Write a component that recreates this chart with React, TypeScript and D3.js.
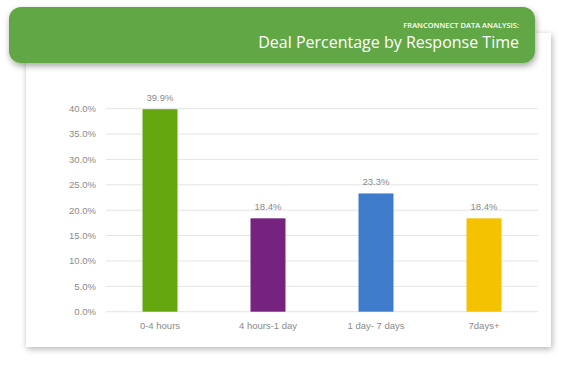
import * as d3 from "d3"
import React from "react"

const categories = ["0-4 hours", "4 hours-1 day", "1 day- 7 days", "7days+"]
const values = [39.9, 18.4, 23.3, 18.4]
const barColors = ["#65a70e", "#75237f", "#3e7bcb", "#f5c200"]
const yTickValues = [0, 5, 10, 15, 20, 25, 30, 35, 40]
const kicker = "FRANCONNECT DATA ANALYSIS:"
const title = "Deal Percentage by Response Time"

const W = 588
const H = 385

export default function App() {
  const x = d3.scaleBand<string>().domain(categories).range([106, 538]).paddingInner(0.676).paddingOuter(0.338)
  const y = d3.scaleLinear().domain([0, 40]).range([311.7, 108.7])
  const fmt = (v: number) => v.toFixed(1) + "%"
  const axisFont = "'Liberation Sans', Arial, sans-serif"
  const titleFont = "'Open Sans', Lato, sans-serif"

  return (
    <div style={{ position: "absolute", left: 0, top: 0 }}>
      <svg width={W} height={H} style={{ display: "block" }}>
        <defs>
          <filter id="cardShadow" x="-10%" y="-10%" width="120%" height="130%">
            <feDropShadow dx="1" dy="2" stdDeviation="3" floodColor="#000" floodOpacity="0.3" />
          </filter>
          <filter id="headShadow" x="-10%" y="-30%" width="120%" height="170%">
            <feDropShadow dx="1" dy="3" stdDeviation="3" floodColor="#000" floodOpacity="0.35" />
          </filter>
        </defs>
        <rect x={0} y={0} width={W} height={H} fill="#fff" />
        <rect x={26} y={33} width={525} height={314} fill="#fff" filter="url(#cardShadow)" />

        {yTickValues.map(t => (
          <g key={t}>
            <line x1={106} x2={538} y1={y(t)} y2={y(t)} stroke="#e4e4e4" strokeWidth={1} />
            <text x={96} y={y(t)} dy="0.35em" textAnchor="end" fontFamily={axisFont} fontSize={9.5} fill="#8a8a8a">
              {fmt(t)}
            </text>
          </g>
        ))}

        {categories.map((c, i) => (
          <g key={c}>
            <rect x={x(c)} y={y(values[i])} width={x.bandwidth()} height={y(0) - y(values[i])} fill={barColors[i]} />
            <text x={(x(c) as number) + x.bandwidth() / 2} y={y(values[i]) - 8} textAnchor="middle" fontFamily={axisFont} fontSize={9.5} fill="#8a8a8a">
              {fmt(values[i])}
            </text>
            <text x={(x(c) as number) + x.bandwidth() / 2} y={326} dy="0.35em" textAnchor="middle" fontFamily={axisFont} fontSize={9.5} fill="#8a8a8a">
              {c}
            </text>
          </g>
        ))}

        <rect x={9} y={7} width={526} height={56} rx={12} ry={12} fill="#62a744" filter="url(#headShadow)" />
        <text x={519} y={28} textAnchor="end" fontFamily={titleFont} fontSize={7.5} fontWeight={600} fill="#fff">
          {kicker}
        </text>
        <text x={519} y={48} textAnchor="end" fontFamily={titleFont} fontSize={16} fontWeight={500} fill="#fff">
          {title}
        </text>
      </svg>
    </div>
  )
}
